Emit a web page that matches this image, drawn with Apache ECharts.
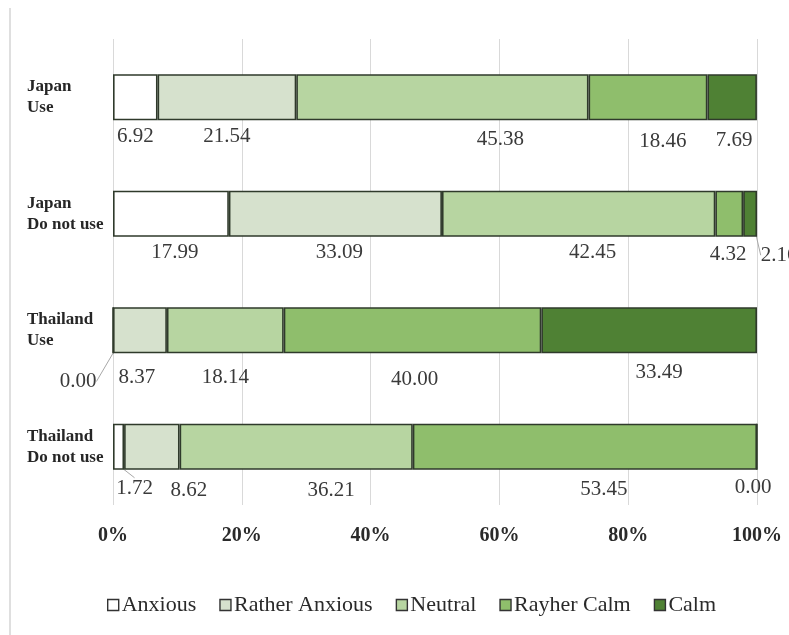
<!DOCTYPE html>
<html>
<head>
<meta charset="utf-8">
<script src="https://cdn.jsdelivr.net/npm/echarts@6/dist/echarts.min.js"></script>
<style>
  html, body { margin: 0; padding: 0; background: #fff; }
  #chart { width: 789px; height: 635px; }
</style>
</head>
<body>
<div id="chart"></div>
<script>
// Groups, top to bottom
const groups = ['Japan\nUse', 'Japan\nDo not use', 'Thailand\nUse', 'Thailand\nDo not use'];

// Share of answers per group (%)
const anxious       = [6.92, 17.99, 0.00, 1.72];
const ratherAnxious = [21.54, 33.09, 8.37, 8.62];
const neutral       = [45.38, 42.45, 18.14, 36.21];
const rayherCalm    = [18.46, 4.32, 40.00, 53.45];
const calm          = [7.69, 2.16, 33.49, 0.00];

const seriesNames = ['Anxious', 'Rather Anxious', 'Neutral', 'Rayher Calm', 'Calm'];
const seriesValues = [anxious, ratherAnxious, neutral, rayherCalm, calm];
const seriesColors = ['#ffffff', '#d6e1cd', '#b7d5a1', '#8fbe6c', '#4f8134'];

const axisTicks = [0, 20, 40, 60, 80, 100];

// Label nudges [dx, dy] per series (rows) and group (columns)
const labelShift = [
  [[0, -2], [4, -3], [-35, 9], [16, 0]],
  [[0, -2], [4, -3], [-3, 6], [37, 2]],
  [[58, 1], [14, -3], [0, 6], [35, 2]],
  [[15, 3], [-1, -1], [2, 8], [19, 1]],
  [[2, 2], [29, 0], [10, 1], [-4, -2]]
];
// Labels that get a leader line
const leader = [
  [false, false, true, true],
  [false, false, false, false],
  [false, false, false, false],
  [false, false, false, false],
  [false, true, false, false]
];

const serif = '"Liberation Serif", "Times New Roman", serif';

const chart = echarts.init(document.getElementById('chart'));

const series = seriesNames.map((name, si) => ({
  name: name,
  type: 'bar',
  stack: 'total',
  barWidth: 46,
  itemStyle: {
    color: seriesColors[si],
    borderColor: '#2f3a2b',
    borderWidth: 1.6
  },
  label: {
    show: true,
    position: 'bottom',
    distance: 8,
    fontFamily: serif,
    fontSize: 21,
    color: '#3a3a3a',
    formatter: p => Number(p.value).toFixed(2)
  },
  labelLine: {
    show: false,
    lineStyle: { color: '#a8a8a8', width: 1 }
  },
  labelLayout: p => ({ dx: labelShift[si][p.dataIndex][0], dy: labelShift[si][p.dataIndex][1] }),
  data: seriesValues[si].map((v, gi) => leader[si][gi]
    ? { value: v, labelLine: { show: true, length2: 0, minTurnAngle: 0, lineStyle: { color: '#a8a8a8', width: 1 } } }
    : v)
}));

chart.setOption({
  animation: false,
  backgroundColor: '#ffffff',
  textStyle: { fontFamily: serif },
  grid: { left: 113, right: 32, top: 39, bottom: 130, containLabel: false },
  xAxis: {
    type: 'value',
    min: axisTicks[0],
    max: axisTicks[axisTicks.length - 1],
    interval: axisTicks[1] - axisTicks[0],
    axisLine: { show: false },
    axisTick: { show: false },
    splitLine: { show: true, lineStyle: { color: '#d9d9d9', width: 1 } },
    axisLabel: {
      formatter: '{value}%',
      fontFamily: serif,
      fontSize: 20,
      fontWeight: 'bold',
      color: '#2a2a2a',
      margin: 21
    }
  },
  yAxis: {
    type: 'category',
    inverse: true,
    data: groups,
    axisLine: { show: false },
    axisTick: { show: false },
    axisLabel: {
      align: 'left',
      margin: 86,
      fontFamily: serif,
      fontSize: 17,
      fontWeight: 'bold',
      lineHeight: 21,
      color: '#262626',
      padding: [0, 0, 12, 0]
    }
  },
  legend: {
    left: 102,
    top: 589,
    itemWidth: 11,
    itemHeight: 11,
    itemGap: 23,
    icon: 'rect',
    textStyle: { fontFamily: serif, fontSize: 22, color: '#2a2a2a', padding: [0, 0, 0, -2] },
    itemStyle: { borderColor: '#333333', borderWidth: 1.4 },
    data: seriesNames
  },
  graphic: [{
    type: 'line',
    shape: { x1: 10, y1: 8, x2: 10, y2: 635 },
    style: { stroke: '#d4d4d4', lineWidth: 1.5 }
  }],
  series: series
});
</script>
</body>
</html>
